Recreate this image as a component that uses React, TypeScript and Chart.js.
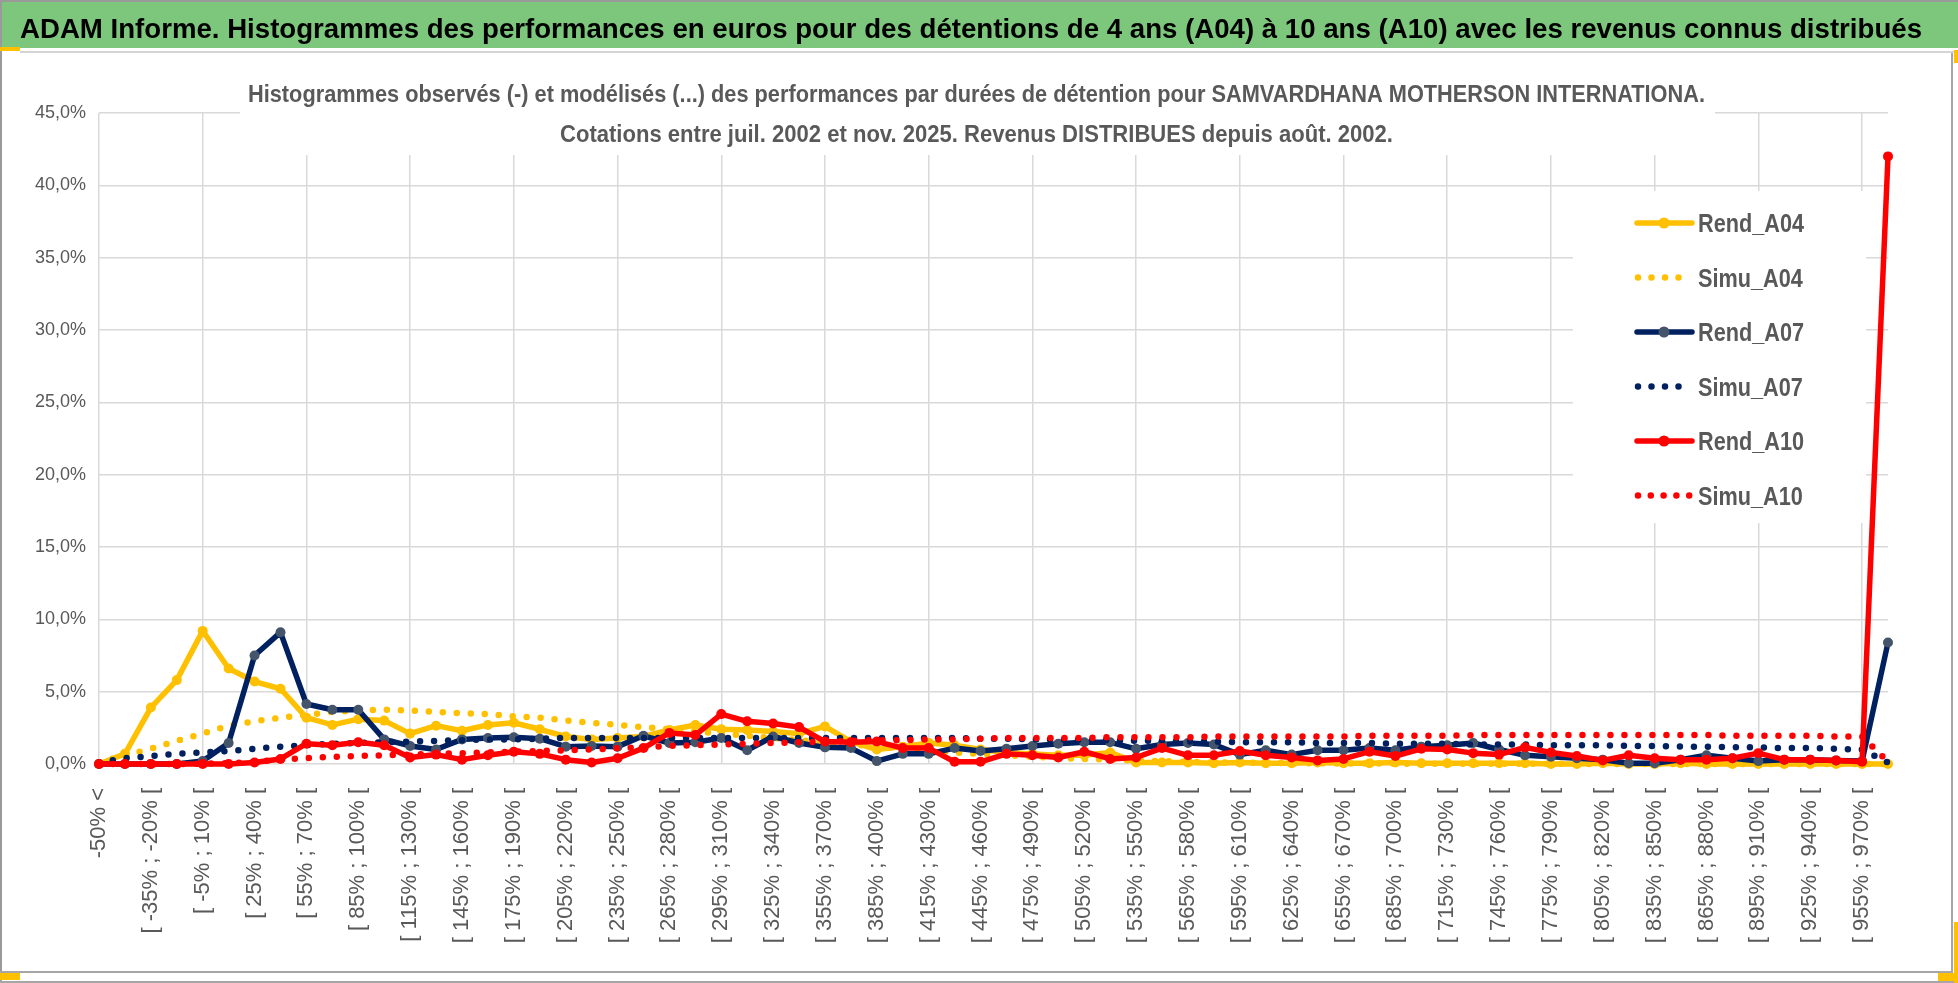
import React, { useEffect, useRef } from 'react';
import { Chart, registerables } from 'chart.js';

Chart.register(...registerables);

const TITLE = "ADAM Informe. Histogrammes des performances en euros pour des détentions de 4 ans (A04) à 10 ans (A10) avec les revenus connus distribués";
const SUBTITLE_1 = "Histogrammes observés (-) et modélisés (...) des performances par durées de détention pour SAMVARDHANA MOTHERSON INTERNATIONA.";
const SUBTITLE_2 = "Cotations entre juil. 2002 et nov. 2025. Revenus DISTRIBUES depuis août. 2002.";

const categories: string[] = [
  "-50% <", "[ -50% ; -35% [", "[ -35% ; -20% [", "[ -20% ; -5% [", "[ -5% ; 10% [",
  "[ 10% ; 25% [", "[ 25% ; 40% [", "[ 40% ; 55% [", "[ 55% ; 70% [", "[ 70% ; 85% [",
  "[ 85% ; 100% [", "[ 100% ; 115% [", "[ 115% ; 130% [", "[ 130% ; 145% [", "[ 145% ; 160% [",
  "[ 160% ; 175% [", "[ 175% ; 190% [", "[ 190% ; 205% [", "[ 205% ; 220% [", "[ 220% ; 235% [",
  "[ 235% ; 250% [", "[ 250% ; 265% [", "[ 265% ; 280% [", "[ 280% ; 295% [", "[ 295% ; 310% [",
  "[ 310% ; 325% [", "[ 325% ; 340% [", "[ 340% ; 355% [", "[ 355% ; 370% [", "[ 370% ; 385% [",
  "[ 385% ; 400% [", "[ 400% ; 415% [", "[ 415% ; 430% [", "[ 430% ; 445% [", "[ 445% ; 460% [",
  "[ 460% ; 475% [", "[ 475% ; 490% [", "[ 490% ; 505% [", "[ 505% ; 520% [", "[ 520% ; 535% [",
  "[ 535% ; 550% [", "[ 550% ; 565% [", "[ 565% ; 580% [", "[ 580% ; 595% [", "[ 595% ; 610% [",
  "[ 610% ; 625% [", "[ 625% ; 640% [", "[ 640% ; 655% [", "[ 655% ; 670% [", "[ 670% ; 685% [",
  "[ 685% ; 700% [", "[ 700% ; 715% [", "[ 715% ; 730% [", "[ 730% ; 745% [", "[ 745% ; 760% [",
  "[ 760% ; 775% [", "[ 775% ; 790% [", "[ 790% ; 805% [", "[ 805% ; 820% [", "[ 820% ; 835% [",
  "[ 835% ; 850% [", "[ 850% ; 865% [", "[ 865% ; 880% [", "[ 880% ; 895% [", "[ 895% ; 910% [",
  "[ 910% ; 925% [", "[ 925% ; 940% [", "[ 940% ; 955% [", "[ 955% ; 970% [", "970% >"
];

const yTicks: number[] = [0, 5, 10, 15, 20, 25, 30, 35, 40, 45];

const rendA04: number[] = [
  0, 0.7, 3.9, 5.8, 9.2, 6.6, 5.7, 5.2, 3.2, 2.7,
  3.1, 3.0, 2.1, 2.65, 2.3, 2.7, 2.85, 2.4, 1.9, 1.7,
  1.8, 1.9, 2.35, 2.7, 2.4, 2.35, 2.25, 2.1, 2.6, 1.55,
  1.0, 1.2, 1.45, 1.3, 1.0, 0.8, 0.7, 0.6, 0.6, 0.8,
  0.1, 0.1, 0.1, 0.05, 0.1, 0.05, 0.05, 0.1, 0.05, 0.05,
  0.1, 0.05, 0.05, 0.05, 0.05, 0.05, 0, 0, 0.05, 0,
  0, 0.05, 0, 0, 0, 0, 0, 0, 0, 0
];

const simuA04: number[] = [
  0.1, 0.6, 1.05, 1.6, 2.1, 2.65, 2.95, 3.2, 3.4, 3.6,
  3.7, 3.75, 3.7, 3.6, 3.5, 3.45, 3.3, 3.2, 3.0, 2.85,
  2.7, 2.55, 2.4, 2.25, 2.1, 1.95, 1.8, 1.65, 1.5, 1.35,
  1.2, 1.05, 0.95, 0.8, 0.7, 0.6, 0.5, 0.4, 0.35, 0.3,
  0.25, 0.2, 0.15, 0.12, 0.1, 0.08, 0.06, 0.05, 0.04, 0.03,
  0.03, 0.02, 0.02, 0.02, 0.01, 0.01, 0.01, 0.01, 0, 0,
  0, 0, 0, 0, 0, 0, 0, 0, 0, 0
];

const rendA07: number[] = [
  0, 0, 0, 0, 0.2, 1.45, 7.5, 9.1, 4.15, 3.75,
  3.75, 1.7, 1.25, 1.0, 1.7, 1.8, 1.85, 1.75, 1.2, 1.25,
  1.2, 1.95, 1.45, 1.5, 1.8, 0.95, 1.9, 1.45, 1.15, 1.1,
  0.2, 0.7, 0.7, 1.1, 0.9, 1.05, 1.25, 1.4, 1.5, 1.5,
  1.05, 1.35, 1.45, 1.35, 0.65, 0.95, 0.65, 0.95, 0.95, 1.1,
  0.95, 1.2, 1.3, 1.45, 1.0, 0.6, 0.5, 0.4, 0.3, 0.05,
  0.05, 0.3, 0.6, 0.4, 0.2, 0.3, 0.3, 0.25, 0.2, 8.4
];

const simuA07: number[] = [
  0.1, 0.4, 0.55, 0.7, 0.8, 0.9, 1.05, 1.2, 1.3, 1.4,
  1.45, 1.5, 1.55, 1.6, 1.65, 1.7, 1.7, 1.75, 1.8, 1.8,
  1.8, 1.8, 1.8, 1.8, 1.8, 1.8, 1.8, 1.8, 1.8, 1.8,
  1.8, 1.8, 1.8, 1.8, 1.75, 1.75, 1.7, 1.7, 1.65, 1.65,
  1.6, 1.6, 1.55, 1.55, 1.5, 1.5, 1.5, 1.45, 1.45, 1.45,
  1.4, 1.4, 1.4, 1.35, 1.35, 1.35, 1.3, 1.3, 1.3, 1.25,
  1.25, 1.2, 1.2, 1.15, 1.15, 1.1, 1.1, 1.05, 1.0, 0.1
];

const rendA10: number[] = [
  0, 0, 0, 0, 0, 0, 0.1, 0.35, 1.4, 1.3,
  1.5, 1.3, 0.45, 0.65, 0.3, 0.6, 0.85, 0.7, 0.3, 0.1,
  0.4, 1.1, 2.15, 2.0, 3.45, 2.95, 2.8, 2.55, 1.55, 1.5,
  1.55, 1.1, 1.1, 0.15, 0.15, 0.7, 0.6, 0.45, 0.85, 0.35,
  0.45, 1.1, 0.6, 0.6, 0.9, 0.6, 0.45, 0.25, 0.35, 0.85,
  0.55, 1.05, 1.0, 0.75, 0.65, 1.15, 0.8, 0.55, 0.25, 0.6,
  0.4, 0.3, 0.3, 0.4, 0.75, 0.3, 0.3, 0.25, 0.15, 42.0
];

const simuA10: number[] = [
  0, 0, 0, 0, 0.02, 0.05, 0.15, 0.3, 0.4, 0.5,
  0.55, 0.6, 0.65, 0.7, 0.75, 0.8, 0.85, 0.9, 0.95, 1.0,
  1.1, 1.15, 1.25, 1.3, 1.35, 1.4, 1.45, 1.5, 1.55, 1.6,
  1.65, 1.65, 1.7, 1.7, 1.75, 1.8, 1.8, 1.8, 1.8, 1.85,
  1.85, 1.85, 1.85, 1.9, 1.9, 1.9, 1.9, 1.9, 1.9, 1.95,
  1.95, 1.95, 1.95, 2.0, 2.0, 2.0, 2.0, 2.0, 2.0, 2.0,
  2.0, 2.0, 2.0, 1.95, 1.95, 1.95, 1.95, 1.9, 1.9, 0.15
];

const seriesNames: string[] = ["Rend_A04", "Simu_A04", "Rend_A07", "Simu_A07", "Rend_A10", "Simu_A10"];

const YELLOW = '#FFC000';
const NAVY = '#002060';
const NAVY_MARK = '#44546A';
const RED = '#FF0000';
const GREEN = 'rgb(124,199,124)';
const TEXT_GRAY = '#595959';
const GRID = '#D9D9D9';

function fontAvailable(name: string): boolean {
  const c = document.createElement('canvas').getContext('2d');
  if (!c) return false;
  const sample = 'abcdefghijklmnopqrstuvwxyz0123456789,%';
  c.font = '40px monospace';
  const a = c.measureText(sample).width;
  c.font = `40px '${name}', monospace`;
  const b = c.measureText(sample).width;
  return Math.abs(a - b) > 0.5;
}

function drawFitted(ctx: CanvasRenderingContext2D, text: string, x: number, y: number, width: number, font: string, color: string, center: boolean) {
  ctx.save();
  ctx.font = font;
  ctx.fillStyle = color;
  ctx.textBaseline = 'alphabetic';
  ctx.textAlign = 'left';
  const w = ctx.measureText(text).width;
  const s = width / w;
  const left = center ? x - width / 2 : x;
  ctx.translate(left, y);
  ctx.scale(s, 1);
  ctx.fillText(text, 0, 0);
  ctx.restore();
}

export default function App() {
  const ref = useRef<HTMLCanvasElement>(null);

  useEffect(() => {
    document.body.style.margin = '0';
    const canvas = ref.current;
    if (!canvas) return;

    const BASE = "'Liberation Sans', Arial, sans-serif";
    const hasNarrow = fontAvailable('Liberation Sans Narrow');
    const NARROW = hasNarrow ? "'Liberation Sans Narrow', 'Liberation Sans', sans-serif" : BASE;

    const framePlugin = {
      id: 'framePlugin',
      beforeDraw(chart: any) {
        const ctx: CanvasRenderingContext2D = chart.ctx;
        ctx.save();
        ctx.fillStyle = '#ffffff';
        ctx.fillRect(0, 0, 1958, 983);
        ctx.fillStyle = '#9a9a9a';
        ctx.fillRect(0, 0, 1958, 2);
        ctx.fillRect(0, 0, 2, 983);
        ctx.fillStyle = GREEN;
        ctx.fillRect(2, 2, 1956, 46);
        ctx.fillStyle = '#d4d4d4';
        ctx.fillRect(20, 51, 1938, 2);
        ctx.fillStyle = '#a6a6a6';
        ctx.fillRect(1951, 53, 2, 920);
        ctx.fillRect(0, 971, 1953, 2);
        ctx.fillRect(0, 981, 1958, 2);
        ctx.fillStyle = YELLOW;
        ctx.fillRect(0, 47, 20, 4);
        ctx.fillRect(1954, 50, 4, 13);
        ctx.fillRect(1954, 922, 4, 61);
        ctx.fillRect(1938, 973, 20, 8);
        ctx.fillRect(0, 973, 20, 7);
        ctx.restore();
        drawFitted(ctx, TITLE, 20, 38, 1902, `bold 28px ${NARROW}`, '#000000', false);
      }
    };

    const subtitlePlugin = {
      id: 'subtitlePlugin',
      beforeDatasetsDraw(chart: any) {
        const ctx: CanvasRenderingContext2D = chart.ctx;
        ctx.save();
        ctx.fillStyle = '#ffffff';
        ctx.fillRect(240, 56, 1475, 99);
        ctx.restore();
        drawFitted(ctx, SUBTITLE_1, 976.5, 102, 1457, `bold 24px ${NARROW}`, TEXT_GRAY, true);
        drawFitted(ctx, SUBTITLE_2, 976.5, 142, 833, `bold 24px ${NARROW}`, TEXT_GRAY, true);
      }
    };

    const legendPlugin = {
      id: 'legendPlugin',
      afterDatasetsDraw(chart: any) {
        const ctx: CanvasRenderingContext2D = chart.ctx;
        ctx.save();
        ctx.fillStyle = '#ffffff';
        ctx.fillRect(1573, 191, 293, 332);
        const rowY = [223, 277.5, 332, 386.5, 441, 495.5];
        const font = `bold 25px ${NARROW}`;
        ctx.font = font;
        const scale = 106 / ctx.measureText('Rend_A04').width;
        chart.data.datasets.forEach((ds: any, i: number) => {
          const y = rowY[i];
          ctx.save();
          ctx.strokeStyle = ds.borderColor;
          ctx.lineWidth = ds.borderWidth;
          ctx.lineCap = 'round';
          if (ds.borderDash && ds.borderDash.length) {
            const end = i === 5 ? 1690 : 1679;
            const gap = i === 5 ? 12.8 : 13.5;
            ctx.setLineDash([0, gap]);
            ctx.beginPath();
            ctx.moveTo(1638, y);
            ctx.lineTo(end, y);
            ctx.stroke();
          } else {
            ctx.beginPath();
            ctx.moveTo(1637, y);
            ctx.lineTo(1692, y);
            ctx.stroke();
            ctx.fillStyle = ds.pointBackgroundColor;
            ctx.beginPath();
            ctx.arc(1664, y, 5.5, 0, Math.PI * 2);
            ctx.fill();
          }
          ctx.restore();
          ctx.save();
          ctx.font = font;
          ctx.fillStyle = TEXT_GRAY;
          ctx.textBaseline = 'alphabetic';
          ctx.translate(1698, y + 9);
          ctx.scale(scale, 1);
          ctx.fillText(ds.label, 0, 0);
          ctx.restore();
        });
        ctx.restore();
      }
    };

    const solid = (label: string, data: number[], color: string, mark: string, order: number) => ({
      label,
      data,
      borderColor: color,
      backgroundColor: color,
      borderWidth: 5.5,
      borderJoinStyle: 'round',
      borderCapStyle: 'round',
      pointRadius: 5,
      pointBackgroundColor: mark,
      pointBorderColor: mark,
      pointBorderWidth: 0,
      pointHoverRadius: 5,
      tension: 0,
      fill: false,
      clip: false,
      order
    });

    const dotted = (label: string, data: number[], color: string, order: number) => ({
      label,
      data,
      borderColor: color,
      backgroundColor: color,
      borderWidth: 6.5,
      borderDash: [0, 14],
      borderCapStyle: 'round',
      borderJoinStyle: 'round',
      pointRadius: 0,
      pointHoverRadius: 0,
      tension: 0,
      fill: false,
      clip: false,
      order
    });

    const chart = new Chart(canvas, {
      type: 'line',
      data: {
        labels: categories,
        datasets: [
          solid(seriesNames[0], rendA04, YELLOW, YELLOW, 6),
          dotted(seriesNames[1], simuA04, YELLOW, 5),
          solid(seriesNames[2], rendA07, NAVY, NAVY_MARK, 4),
          dotted(seriesNames[3], simuA07, NAVY, 3),
          solid(seriesNames[4], rendA10, RED, RED, 2),
          dotted(seriesNames[5], simuA10, RED, 1)
        ] as any
      },
      options: {
        responsive: false,
        animation: false,
        devicePixelRatio: 1,
        layout: { padding: { left: 0, top: 113, right: 70, bottom: 0 } },
        plugins: {
          legend: { display: false },
          tooltip: { enabled: false },
          title: { display: false }
        },
        events: [],
        scales: {
          x: {
            type: 'category',
            offset: false,
            border: { display: false },
            grid: {
              drawTicks: false,
              lineWidth: 1.5,
              color: (c: any) => (c.index % 4 === 0 ? GRID : 'rgba(0,0,0,0)')
            },
            ticks: {
              autoSkip: false,
              maxRotation: 90,
              minRotation: 90,
              padding: 24,
              color: TEXT_GRAY,
              font: { family: BASE, size: 22 },
              callback: function (this: any, value: any, index: number) {
                return index % 2 === 0 ? categories[index] : '';
              }
            },
            afterFit: (s: any) => { s.height = 219; }
          },
          y: {
            min: 0,
            max: 45,
            border: { display: false },
            grid: { drawTicks: false, lineWidth: 1.5, color: GRID },
            afterBuildTicks: (s: any) => { s.ticks = yTicks.map((v) => ({ value: v })); },
            ticks: {
              padding: 13,
              color: TEXT_GRAY,
              font: { family: NARROW, size: hasNarrow ? 20 : 18 },
              callback: (v: any) => Number(v).toFixed(1).replace('.', ',') + '%'
            },
            afterFit: (s: any) => { s.width = 99; }
          }
        }
      } as any,
      plugins: [framePlugin, subtitlePlugin, legendPlugin]
    });

    return () => { chart.destroy(); };
  }, []);

  return (
    <div style={{ width: 1958, height: 983, position: 'relative', background: '#ffffff', overflow: 'hidden' }}>
      <canvas ref={ref} width={1958} height={983} style={{ display: 'block', width: 1958, height: 983 }} />
    </div>
  );
}
